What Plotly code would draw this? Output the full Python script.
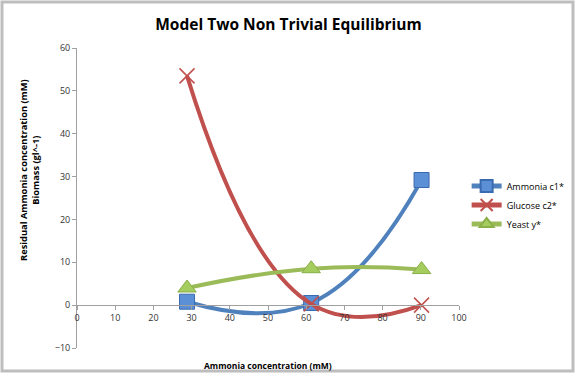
import plotly.graph_objects as go

x_vals = [28.8, 61.3, 90.2]
ammonia = [0.8, 0.5, 29.2]
glucose = [53.5, 0.3, 0.0]
yeast = [4.0, 8.5, 8.3]
series_names = ["Ammonia c1*", "Glucose c2*", "Yeast y*"]
colors = ["#4F81BD", "#C0504D", "#9BBB59"]

W, H = 577, 377
L, R, T, B = 77, 118, 48, 29
ymin, ymax = -10, 60
SM = 1.3
pw, ph = W - L - R, H - T - B

fig = go.Figure()
fig.add_trace(go.Scatter(x=x_vals, y=ammonia, name=series_names[0], mode="lines+markers",
    line=dict(color=colors[0], width=4, shape="spline", smoothing=SM),
    marker=dict(symbol="square", size=15, color="#5B8FD6", line=dict(color="#3A6BB0", width=1))))
fig.add_trace(go.Scatter(x=x_vals, y=glucose, name=series_names[1], mode="lines+markers",
    line=dict(color=colors[1], width=4, shape="spline", smoothing=SM),
    marker=dict(symbol="x-thin", size=15, color=colors[1], line=dict(color=colors[1], width=1.5))))
fig.add_trace(go.Scatter(x=x_vals, y=yeast, name=series_names[2], mode="lines+markers",
    line=dict(color=colors[2], width=4, shape="spline", smoothing=SM),
    marker=dict(symbol="triangle-up", size=16, color="#A5CC5E", line=dict(color="#8AAE48", width=1))))

axis_font = dict(family="Open Sans, Arial, sans-serif", size=9, color="#333")
fig.update_layout(
    width=W, height=H,
    margin=dict(l=L, r=R, t=T, b=B, autoexpand=False),
    paper_bgcolor="white", plot_bgcolor="white",
    title=dict(text="<b>Model Two Non Trivial Equilibrium</b>", x=0.5, xanchor="center",
               y=1 - 25 / H, yanchor="middle",
               font=dict(family="Open Sans, Arial, sans-serif", size=15.5, color="black")),
    xaxis=dict(range=[0, 100], dtick=10, tick0=0, showgrid=False, zeroline=False,
               showline=True, linecolor="#A0A0A0", linewidth=1,
               ticks="outside", ticklen=4, tickcolor="#A0A0A0",
               anchor="free", position=(0 - ymin) / (ymax - ymin),
               tickfont=axis_font, automargin=False),
    yaxis=dict(range=[ymin, ymax], dtick=10, tick0=0, showgrid=False, zeroline=False,
               showline=True, linecolor="#A0A0A0", linewidth=1,
               ticks="outside", ticklen=4, tickcolor="#A0A0A0",
               tickfont=axis_font, automargin=False),
    legend=dict(x=1.02, y=1 - (205 - T) / ph, xanchor="left", yanchor="middle",
                font=dict(family="Open Sans, Arial, sans-serif", size=9, color="black"),
                itemwidth=30, itemsizing="constant", tracegroupgap=4, bgcolor="rgba(0,0,0,0)"),
    showlegend=True,
)
fig.add_annotation(text="<b>Ammonia concentration (mM)</b>", xref="paper", yref="paper",
                   x=0.5, y=-(365 - (T + ph)) / ph, xanchor="center", yanchor="middle",
                   showarrow=False,
                   font=dict(family="Open Sans, Arial, sans-serif", size=8.5, color="black"))
fig.add_annotation(text="<b>Residual Ammonia concentration (mM)<br>Biomass (gl^-1)</b>",
                   xref="paper", yref="paper", textangle=-90,
                   x=(29 - L) / pw, y=1 - (170 - T) / ph, xanchor="center", yanchor="middle",
                   showarrow=False,
                   font=dict(family="Open Sans, Arial, sans-serif", size=9.3, color="black"))
# chart border frame
fig.add_shape(type="rect", xref="paper", yref="paper",
              x0=-(L - 2) / pw, x1=1 + (R - 4) / pw, y0=-(B - 6) / ph, y1=1 + (T - 2) / ph,
              line=dict(color="#BDBDBD", width=3), layer="below")
fig.write_html("out.html", config={"displayModeBar": False},
               post_script="document.body.style.margin='0';document.body.style.overflow='hidden';")
